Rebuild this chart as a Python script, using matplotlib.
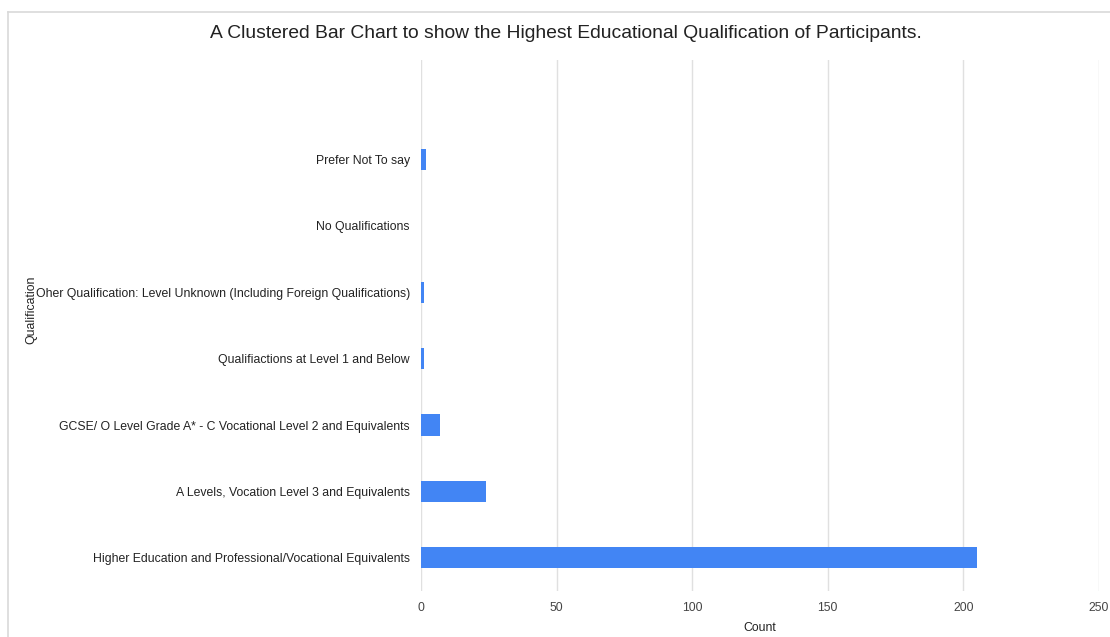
import matplotlib.pyplot as plt
from matplotlib.lines import Line2D

plt.rcParams['font.family'] = ['Liberation Sans', 'DejaVu Sans']

qualificaciones = [
    'Higher Education and Professional/Vocational Equivalents',
    'A Levels, Vocation Level 3 and Equivalents',
    'GCSE/ O Level Grade A* - C Vocational Level 2 and Equivalents',
    'Qualifiactions at Level 1 and Below',
    'Oher Qualification: Level Unknown (Including Foreign Qualifications)',
    'No Qualifications',
    'Prefer Not To say',
]
cantidades = [205, 24, 7, 1, 1, 0, 2]
ticks_x = [0, 50, 100, 150, 200, 250]

fig = plt.figure(figsize=(11.1, 6.37), dpi=100)
ax = fig.add_axes([421 / 1110, 1 - 591 / 637, 678 / 1110, 531 / 637])

pos = list(range(len(qualificaciones)))
ax.barh(pos, cantidades, height=0.32, color='#4285f4', zorder=3)

ax.set_xlim(0, 250)
ax.set_ylim(-0.5, 7.5)
ax.set_xticks(ticks_x)
ax.set_xticklabels([str(t) for t in ticks_x], fontsize=8.8, color='#444444')
ax.set_yticks(pos)
ax.set_yticklabels(qualificaciones, fontsize=8.8, color='#222222')
ax.tick_params(axis='both', length=0)
ax.tick_params(axis='x', pad=8)
ax.tick_params(axis='y', pad=8)
ax.grid(axis='x', color='#e0e0e0', linewidth=1, zorder=0)
for lado in ax.spines.values():
    lado.set_visible(False)

ax.set_xlabel('Count', fontsize=8.8, color='#222222', labelpad=6)
fig.text(31 / 1110, 1 - 310 / 637, 'Qualification', rotation=90,
         ha='center', va='center', fontsize=8.8, color='#222222')
fig.text(566 / 1110, 1 - 33 / 637,
         'A Clustered Bar Chart to show the Highest Educational Qualification of Participants.',
         ha='center', va='center', fontsize=13.9, color='#222222')

# marco gris claro alrededor del grafico
fig.add_artist(Line2D([8 / 1110, 1], [1 - 12 / 637, 1 - 12 / 637],
                      transform=fig.transFigure, color='#d9d9d9', linewidth=1.2))
fig.add_artist(Line2D([8 / 1110, 8 / 1110], [0, 1 - 12 / 637],
                      transform=fig.transFigure, color='#d9d9d9', linewidth=1.2))

fig.savefig('out.png', dpi=100)
plt.close(fig)
